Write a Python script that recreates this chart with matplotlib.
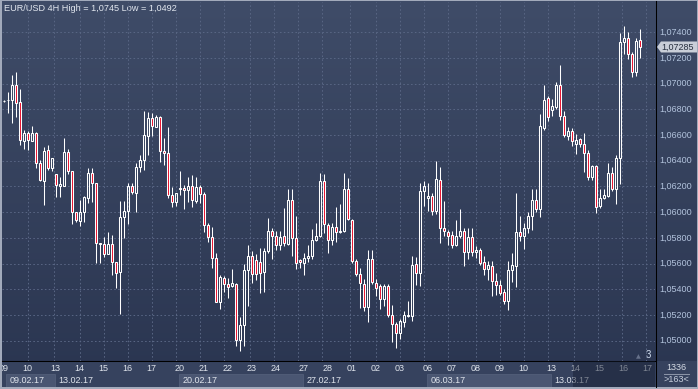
import numpy as np
import matplotlib
matplotlib.use("Agg")
import matplotlib.pyplot as plt
from matplotlib.patches import Rectangle, Polygon

# ---------------- data (EUR/USD 4H candles) ----------------
opens = [1.06867, 1.06870, 1.06873, 1.06989, 1.06854, 1.06556, 1.06618, 1.06556, 1.06618, 1.06380,
         1.06245, 1.06484, 1.06346, 1.06294, 1.06203, 1.06203, 1.06465, 1.06320, 1.06004, 1.05931,
         1.05998, 1.06107, 1.06302, 1.06224, 1.05757, 1.05749, 1.05672, 1.05749, 1.05609, 1.05532,
         1.05960, 1.06009, 1.06203, 1.06146, 1.06349, 1.06406, 1.06592, 1.06730, 1.06665, 1.06743,
         1.06476, 1.06458, 1.06133, 1.06076, 1.06180, 1.06190, 1.06172, 1.06206, 1.06089, 1.06198,
         1.06139, 1.05900, 1.05809, 1.05641, 1.05298, 1.05485, 1.05438, 1.05425, 1.05438, 1.05008,
         1.05124, 1.05549, 1.05657, 1.05626, 1.05613, 1.05537, 1.05696, 1.05856, 1.05818, 1.05743,
         1.05818, 1.05753, 1.06096, 1.05800, 1.05624, 1.05606, 1.05645, 1.05658, 1.05787, 1.05818,
         1.06243, 1.05903, 1.05787, 1.05885, 1.05846, 1.05851, 1.06178, 1.05941, 1.05619, 1.05521,
         1.05444, 1.05266, 1.05632, 1.05452, 1.05426, 1.05323, 1.05426, 1.05202, 1.05130, 1.05057,
         1.05142, 1.05194, 1.05194, 1.05593, 1.05529, 1.06165, 1.06109, 1.06127, 1.06006, 1.06251,
         1.05877, 1.05844, 1.05824, 1.05741, 1.05811, 1.05855, 1.05687, 1.05803, 1.05689, 1.05707,
         1.05612, 1.05560, 1.05578, 1.05467, 1.05436, 1.05377, 1.05307, 1.05552, 1.05578, 1.05849,
         1.05811, 1.05880, 1.05971, 1.06095, 1.06023, 1.06657, 1.06889, 1.06794, 1.06820, 1.06992,
         1.06746, 1.06593, 1.06630, 1.06529, 1.06568, 1.06534, 1.06464, 1.06276, 1.06358, 1.06048,
         1.06108, 1.06128, 1.06301, 1.06177, 1.06418, 1.07323, 1.07356, 1.07232, 1.07090, 1.07336]
highs = [1.06875, 1.06937, 1.07067, 1.07088, 1.06956, 1.06639, 1.06634, 1.06670, 1.06626, 1.06406,
         1.06504, 1.06522, 1.06419, 1.06294, 1.06276, 1.06574, 1.06491, 1.06320, 1.06004, 1.06094,
         1.06128, 1.06341, 1.06341, 1.06224, 1.05762, 1.05809, 1.05848, 1.05822, 1.05615, 1.06087,
         1.06087, 1.06229, 1.06224, 1.06380, 1.06445, 1.06790, 1.06782, 1.06769, 1.06756, 1.06748,
         1.06574, 1.06665, 1.06198, 1.06146, 1.06320, 1.06211, 1.06276, 1.06289, 1.06276, 1.06211,
         1.06159, 1.05913, 1.05887, 1.05679, 1.05511, 1.05503, 1.05485, 1.05557, 1.05446, 1.05183,
         1.05600, 1.05742, 1.05695, 1.05672, 1.05724, 1.05722, 1.05954, 1.05877, 1.05856, 1.05851,
         1.06031, 1.06181, 1.06181, 1.05972, 1.05632, 1.05684, 1.05748, 1.05869, 1.05916, 1.06302,
         1.06297, 1.05916, 1.05916, 1.06044, 1.06062, 1.06302, 1.06263, 1.05946, 1.05632, 1.05568,
         1.05477, 1.05709, 1.05709, 1.05477, 1.05439, 1.05439, 1.05439, 1.05276, 1.05142, 1.05168,
         1.05233, 1.05310, 1.05658, 1.05653, 1.06230, 1.06243, 1.06225, 1.06148, 1.06397, 1.06354,
         1.06087, 1.05862, 1.05855, 1.05940, 1.06025, 1.05880, 1.05875, 1.05875, 1.05738, 1.05725,
         1.05656, 1.05617, 1.05622, 1.05527, 1.05475, 1.05403, 1.05617, 1.05682, 1.06147, 1.05971,
         1.05919, 1.06004, 1.06177, 1.06177, 1.06767, 1.06992, 1.06902, 1.06880, 1.07013, 1.07147,
         1.06785, 1.06663, 1.06655, 1.06611, 1.06578, 1.06617, 1.06487, 1.06366, 1.06366, 1.06180,
         1.06177, 1.06384, 1.06353, 1.06444, 1.07392, 1.07452, 1.07400, 1.07245, 1.07354, 1.07426]
lows = [1.06860, 1.06769, 1.06691, 1.06743, 1.06522, 1.06491, 1.06484, 1.06556, 1.06341, 1.06245,
        1.06056, 1.06328, 1.06320, 1.06120, 1.06120, 1.06203, 1.06294, 1.05905, 1.05926, 1.05895,
        1.05926, 1.06069, 1.06076, 1.05602, 1.05602, 1.05653, 1.05672, 1.05511, 1.05407, 1.05205,
        1.05796, 1.05908, 1.06141, 1.05998, 1.06315, 1.06328, 1.06445, 1.06592, 1.06665, 1.06393,
        1.06367, 1.06107, 1.06043, 1.06050, 1.06133, 1.06024, 1.06081, 1.06043, 1.06074, 1.06069,
        1.05848, 1.05770, 1.05563, 1.05298, 1.05246, 1.05376, 1.05329, 1.05420, 1.04957, 1.04918,
        1.04957, 1.05271, 1.05446, 1.05471, 1.05373, 1.05380, 1.05684, 1.05632, 1.05702, 1.05702,
        1.05735, 1.05743, 1.05658, 1.05555, 1.05562, 1.05511, 1.05611, 1.05632, 1.05774, 1.05807,
        1.05838, 1.05684, 1.05748, 1.05766, 1.05838, 1.05846, 1.05941, 1.05606, 1.05503, 1.05258,
        1.05233, 1.05142, 1.05439, 1.05349, 1.05246, 1.05271, 1.05181, 1.04993, 1.04941, 1.05014,
        1.05104, 1.05181, 1.05155, 1.05431, 1.05426, 1.06050, 1.06006, 1.05975, 1.05988, 1.05761,
        1.05811, 1.05741, 1.05725, 1.05733, 1.05798, 1.05578, 1.05638, 1.05656, 1.05643, 1.05586,
        1.05509, 1.05475, 1.05346, 1.05359, 1.05359, 1.05289, 1.05237, 1.05457, 1.05416, 1.05772,
        1.05715, 1.05837, 1.05862, 1.06004, 1.05966, 1.06637, 1.06710, 1.06750, 1.06800, 1.06716,
        1.06586, 1.06560, 1.06516, 1.06449, 1.06508, 1.06314, 1.06250, 1.06250, 1.05992, 1.06030,
        1.06100, 1.06121, 1.06167, 1.06061, 1.06216, 1.07232, 1.07194, 1.07052, 1.07057, 1.07201]
closes = [1.06867, 1.06875, 1.06989, 1.06847, 1.06561, 1.06618, 1.06561, 1.06618, 1.06380, 1.06250,
          1.06478, 1.06346, 1.06419, 1.06211, 1.06219, 1.06465, 1.06320, 1.06004, 1.05939, 1.06004,
          1.06120, 1.06302, 1.06224, 1.05757, 1.05749, 1.05672, 1.05749, 1.05609, 1.05524, 1.05960,
          1.06009, 1.06203, 1.06154, 1.06349, 1.06406, 1.06600, 1.06730, 1.06670, 1.06743, 1.06476,
          1.06458, 1.06133, 1.06076, 1.06146, 1.06190, 1.06172, 1.06206, 1.06094, 1.06198, 1.06139,
          1.05900, 1.05809, 1.05641, 1.05303, 1.05498, 1.05438, 1.05420, 1.05446, 1.05008, 1.05124,
          1.05549, 1.05657, 1.05515, 1.05515, 1.05530, 1.05696, 1.05856, 1.05812, 1.05743, 1.05807,
          1.05761, 1.06096, 1.05800, 1.05606, 1.05614, 1.05645, 1.05658, 1.05787, 1.05818, 1.06243,
          1.05910, 1.05787, 1.05885, 1.05846, 1.05851, 1.06178, 1.05946, 1.05619, 1.05521, 1.05452,
          1.05266, 1.05632, 1.05457, 1.05413, 1.05323, 1.05426, 1.05202, 1.05130, 1.05057, 1.05155,
          1.05202, 1.05202, 1.05586, 1.05524, 1.06165, 1.06204, 1.06127, 1.06006, 1.06256, 1.05877,
          1.05855, 1.05811, 1.05741, 1.05816, 1.05855, 1.05687, 1.05803, 1.05687, 1.05707, 1.05604,
          1.05560, 1.05586, 1.05467, 1.05431, 1.05372, 1.05307, 1.05552, 1.05591, 1.05849, 1.05811,
          1.05880, 1.05971, 1.06095, 1.06023, 1.06668, 1.06871, 1.06742, 1.06825, 1.06992, 1.06747,
          1.06599, 1.06630, 1.06555, 1.06560, 1.06529, 1.06464, 1.06276, 1.06358, 1.06043, 1.06108,
          1.06134, 1.06301, 1.06177, 1.06418, 1.07323, 1.07356, 1.07232, 1.07090, 1.07330, 1.07285]

price_levels = [1.050, 1.052, 1.054, 1.056, 1.058, 1.060, 1.062, 1.064, 1.066, 1.068, 1.070, 1.072, 1.074]
day_labels = ["09", "10", "13", "14", "15", "16", "17", "20", "21", "22", "23", "24", "27", "28",
              "01", "02", "03", "06", "07", "08", "09", "10", "13", "14", "15", "16", "17"]
day_start = [1, 7, 14, 20, 26, 32, 38, 45, 51, 57, 63, 69, 76, 82,
             88, 94, 100, 107, 113, 119, 125, 131, 138, 144, 150, 156, 162]
week_labels = ["09.02.17", "13.02.17", "20.02.17", "27.02.17", "06.03.17", "13.03.17"]
week_start = [1, 14, 45, 76, 107, 138]
grid_bars = [7, 13.5, 20, 26, 32, 38, 44, 50, 56, 62.5, 68.5, 74.5, 80.5, 87.5, 94, 100, 106, 112,
             119, 125, 131, 137, 143.5, 149.5, 155.5, 161.5]
title = "EUR/USD 4H High = 1,0745 Low = 1,0492"
last_price = 1.07285

# ---------------- layout ----------------
W, H = 698, 389
fig = plt.figure(figsize=(W / 100, H / 100), dpi=100)
FONT = "Liberation Sans"


def px_rect(x0, y0, x1, y1):
    return [x0 / W, 1 - y1 / H, (x1 - x0) / W, (y1 - y0) / H]


# background with gradient (pixel coordinates, y downwards)
bg = fig.add_axes([0, 0, 1, 1])
bg.set_axis_off()
g = np.linspace(0, 1, 256)[:, None, None]
ctop = np.array([63, 76, 104]) / 255
cbot = np.array([42, 53, 80]) / 255
img = ctop + (cbot - ctop) * g
bg.imshow(img, aspect="auto", extent=[0, W, H, 0], interpolation="bilinear")
bg.set_xlim(0, W)
bg.set_ylim(H, 0)
# time-axis rows and bottom-right panel
bg.add_patch(Rectangle((0, 361), 698, 26, facecolor="#36425e", edgecolor="none"))
# frame
frame_c = "#a2aabb"
bg.add_patch(Rectangle((0, 0), 2, H, facecolor=frame_c, edgecolor="none"))
bg.add_patch(Rectangle((0, 0), W, 1, facecolor=frame_c, edgecolor="none"))
bg.add_patch(Rectangle((0, 386.5), W, 3, facecolor=frame_c, edgecolor="none"))
bg.add_patch(Rectangle((697, 0), 1, H, facecolor=frame_c, edgecolor="none"))
# black separators
bg.plot([655.5, 655.5], [1, 386.5], color="black", lw=0.75)
bg.plot([2, 655.5], [360.5, 360.5], color="black", lw=0.75)
# bottom-right info
bg.text(676.5, 367.5, "1336", color="#d6dce6", fontsize=6.5, family=FONT, ha="center", va="center")
bg.plot([664, 689], [373.5, 373.5], color="#8a93a6", lw=0.75)
bg.text(676.5, 379.5, ">163<", color="#c6cedc", fontsize=6.5, family=FONT, ha="center", va="center")
# corner marker
bg.text(638.5, 356.5, "\u25b2", color="#66718a", fontsize=4.5, family="DejaVu Sans", ha="center", va="center")
bg.text(648.5, 355.5, "3", color="#d0dcee", fontsize=7, family=FONT, ha="center", va="center")
# title
bg.text(3.5, 8.5, title, color="#e2e7ef", fontsize=6.6, family=FONT, ha="left", va="center")

# ---------------- main candle chart ----------------
x_lo, x_hi = (2 + 0.5) / 4, (655 + 0.5) / 4
ppu = 12854.0
y_hi = 1.074 + (32.2 - 1.5) / ppu
y_lo = 1.074 - (360.5 - 32.2) / ppu

ax = fig.add_axes(px_rect(2, 1.5, 655, 360.5))
ax.set_facecolor("none")
ax.set_xlim(x_lo, x_hi)
ax.set_ylim(y_lo, y_hi)
for s in ax.spines.values():
    s.set_visible(False)
ax.set_xticks([])
ax.set_yticks([])

grid_c = "#586583"
for lv in price_levels:
    ax.axhline(lv, color=grid_c, lw=0.75, dashes=(1.5, 2.2), zorder=1)
for gx in grid_bars:
    ax.axvline(gx, color=grid_c, lw=0.75, dashes=(1.5, 2.2), zorder=1)

o = np.array(opens)
hi = np.array(highs)
lo = np.array(lows)
c = np.array(closes)
k = np.arange(1, len(o) + 1)
up = c >= o
top = np.maximum(o, c)
bot = np.minimum(o, c)
ax.vlines(k, top, hi, color="white", lw=0.75, zorder=3)
ax.vlines(k, lo, bot, color="white", lw=0.75, zorder=3)
ax.bar(k[up], (top - bot)[up], bottom=bot[up], width=0.5, facecolor="none",
       edgecolor="white", lw=0.75, zorder=4)
ax.bar(k[~up], (top - bot)[~up], bottom=bot[~up], width=0.5, facecolor="#e8102c",
       edgecolor="white", lw=0.75, zorder=4)

# ---------------- price axis ----------------
pax = fig.add_axes(px_rect(656, 1.5, 697, 360.5))
pax.set_facecolor("none")
pax.set_axis_off()
pax.set_xlim(656, 697)
pax.set_ylim(y_lo, y_hi)
for lv in price_levels:
    pax.text(659, lv, f"{lv:.5f}".replace(".", ","), color="#b2c3dc", fontsize=6.5,
             family=FONT, ha="left", va="center")
hh = 5.5 / ppu
tag = Polygon([(657, last_price), (661, last_price + hh), (697, last_price + hh),
               (697, last_price - hh), (661, last_price - hh)], closed=True,
              facecolor="#c9ced8", edgecolor="none", zorder=5)
pax.add_patch(tag)
pax.text(661.5, last_price, f"{last_price:.5f}".replace(".", ","), color="#27303f",
         fontsize=6.5, family=FONT, ha="left", va="center", zorder=6)

# ---------------- time axis ----------------
tax = fig.add_axes(px_rect(2, 361, 655, 386.5))
tax.set_facecolor("none")
tax.set_axis_off()
tax.set_xlim(x_lo, x_hi)
tax.set_ylim(386.5, 361)
for i, (lab, ws) in enumerate(zip(week_labels, week_start)):
    left = max(ws - 0.25, x_lo + 1.0)
    if i % 2 == 0:
        right = week_start[i + 1] - 0.25 if i + 1 < len(week_start) else x_hi
        tax.add_patch(Rectangle((left, 374), right - left, 13, facecolor="#4a5672",
                                edgecolor="#56627d", lw=0.5, zorder=1))
    tax.text(left + 1.0, 380.5, lab, color="#dfe4ec", fontsize=6.5, family=FONT,
             ha="left", va="center", zorder=3, clip_on=True)
for lab, ds in zip(day_labels, day_start):
    tax.text(ds, 368.5, lab, color="#dfe4ec", fontsize=6.5, family=FONT,
             ha="center", va="center", zorder=3, clip_on=True)
# darker shaded region at the right end
tax.add_patch(Rectangle((143.4, 361), x_hi - 143.4, 26, facecolor="#141c30",
                        edgecolor="none", alpha=0.47, zorder=5))

fig.savefig("out.png", dpi=100)
